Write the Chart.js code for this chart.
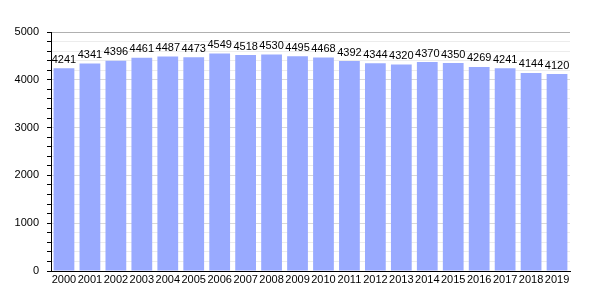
<!DOCTYPE html>
<html>
<head>
<meta charset="utf-8">
<script src="https://cdn.jsdelivr.net/npm/chart.js@4.4.0/dist/chart.umd.min.js"></script>
<style>
  html, body { margin: 0; padding: 0; background: #fff; }
  #wrap { width: 600px; height: 300px; }
</style>
</head>
<body>
<div id="wrap"><canvas id="popChart" width="600" height="300"></canvas></div>
<script>
// ── Data ──
const years  = ['2000','2001','2002','2003','2004','2005','2006','2007','2008','2009',
                '2010','2011','2012','2013','2014','2015','2016','2017','2018','2019'];
const values = [4241,4341,4396,4461,4487,4473,4549,4518,4530,4495,
                4468,4392,4344,4320,4370,4350,4269,4241,4144,4120];

// ── Value labels above bars ──
const barLabels = {
  id: 'barLabels',
  afterDatasetsDraw(chart){
    const ctx = chart.ctx;
    const meta = chart.getDatasetMeta(0);
    ctx.save();
    ctx.font = '11px "Liberation Sans", Arial, sans-serif';
    ctx.fillStyle = '#000';
    ctx.textAlign = 'center';
    ctx.textBaseline = 'bottom';
    meta.data.forEach((bar, i) => {
      ctx.fillText(values[i], bar.x, bar.y - 3);
    });
    ctx.restore();
  }
};

Chart.defaults.font.family = '"Liberation Sans", Arial, sans-serif';
Chart.defaults.font.size = 11;
Chart.defaults.color = '#000';

new Chart(document.getElementById('popChart'), {
  type: 'bar',
  data: {
    labels: years,
    datasets: [{
      data: values,
      backgroundColor: '#99aaff',
      borderWidth: 0,
      barPercentage: 0.8,
      categoryPercentage: 1.0
    }]
  },
  options: {
    responsive: false,
    animation: false,
    layout: { padding: { top: 32, right: 30, left: 0, bottom: 0 } },
    plugins: { legend: { display: false }, tooltip: { enabled: false } },
    scales: {
      x: {
        grid: { display: false, drawTicks: false },
        border: { color: '#000', width: 1 },
        ticks: { color: '#000', padding: 2, maxRotation: 0, autoSkip: false },
        afterFit: s => { s.height = 29; }
      },
      y: {
        min: 0, max: 5000,
        border: { color: '#000', width: 1 },
        grid: {
          color: c => (c.tick && c.tick.value % 1000 === 0)
            ? (c.tick.value === 5000 ? '#b0b0b0' : '#d8d8d8') : '#ececec',
          tickColor: '#000',
          tickLength: 4
        },
        ticks: {
          stepSize: 200,
          padding: 8,
          color: '#000',
          autoSkip: false,
          callback: v => v % 1000 === 0 ? v : ''
        },
        afterFit: s => { s.width = 51; }
      }
    }
  },
  plugins: [barLabels]
});
</script>
</body>
</html>
